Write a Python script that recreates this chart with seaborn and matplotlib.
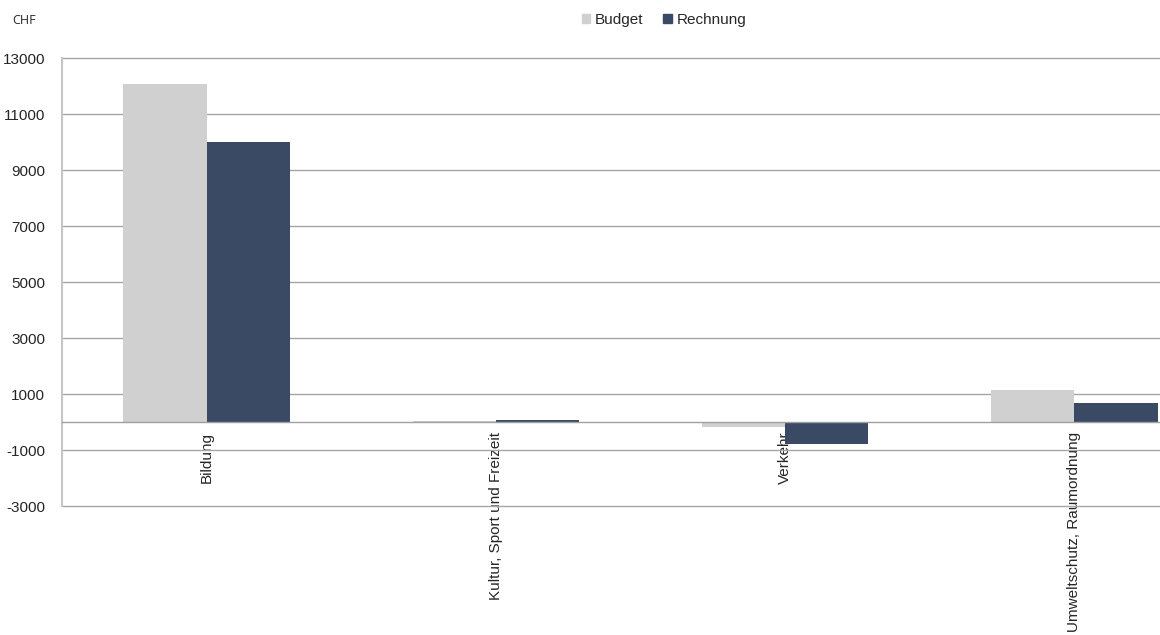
import matplotlib
matplotlib.use("Agg")
import matplotlib.pyplot as plt
import seaborn as sns
import pandas as pd
import numpy as np

sns.set_style("white")
plt.rcParams['font.family'] = ['Liberation Sans', 'DejaVu Sans']

kategorien = ['Bildung', 'Kultur, Sport und Freizeit', 'Verkehr', 'Umweltschutz, Raumordnung']
budget = [12070, 40, -170, 1140]
rechnung = [10000, 55, -770, 690]
serien = ['Budget', 'Rechnung']
farben = ['#D0D0D0', '#3B4A64']
yticks = [-3000, -1000, 1000, 3000, 5000, 7000, 9000, 11000, 13000]

df = pd.DataFrame({
    'Bereich': kategorien * 2,
    'Serie': [serien[0]] * len(kategorien) + [serien[1]] * len(kategorien),
    'CHF': budget + rechnung,
})

fig = plt.figure(figsize=(11.6, 6.35), dpi=100)
ax = fig.add_axes([62 / 1160, 1 - 506 / 635, 1157 / 1160, 448 / 635])

sns.barplot(data=df, x='Bereich', y='CHF', hue='Serie', order=kategorien,
            hue_order=serien, palette=farben, width=0.575, linewidth=0,
            saturation=1, ax=ax, legend=False)

ax.set_ylim(-3000, 13000)
ax.set_xlim(-0.5, 3.5)
ax.set_yticks(yticks)
ax.set_yticklabels([str(t) for t in yticks], fontsize=11)
ax.set_xlabel('')
ax.set_ylabel('')

# horizontal gridlines (not clipped so the -3000 / 13000 lines show fully)
ax.yaxis.grid(True, color='#A6A6A6', linewidth=1)
ax.xaxis.grid(False)
ax.set_axisbelow(True)
for gl in ax.get_ygridlines():
    gl.set_clip_on(False)

for s in ['top', 'right']:
    ax.spines[s].set_visible(False)
ax.spines['left'].set_color('#C6C6C6')
ax.spines['left'].set_linewidth(1.5)
ax.spines['bottom'].set_position(('data', 0))
ax.spines['bottom'].set_color('#A0A0A0')
ax.spines['bottom'].set_linewidth(1)

ax.tick_params(axis='y', length=5, color='#A6A6A6', pad=7)
ax.set_xticks(range(len(kategorien)))
ax.set_xticklabels(kategorien, rotation=90, fontsize=11, va='top', ha='center')
ax.set_xticks([0.5, 1.5, 2.5, 3.5], minor=True)
ax.tick_params(axis='x', which='major', length=0, pad=7)
ax.tick_params(axis='x', which='minor', length=5, color='#A0A0A0', width=1)

fig.text(12 / 1160, 1 - 20 / 635, 'CHF', fontsize=9, family=['Open Sans', 'DejaVu Sans'],
         va='center', ha='left')

handles = [plt.Rectangle((0, 0), 1, 1, color=c) for c in farben]
fig.legend(handles, serien, loc='center', bbox_to_anchor=(664 / 1160, 1 - 20 / 635),
           ncol=2, frameon=False, fontsize=11, handlelength=0.55, handleheight=0.55,
           handletextpad=0.3, columnspacing=1.3, borderpad=0)

fig.savefig('out.png', dpi=100)
